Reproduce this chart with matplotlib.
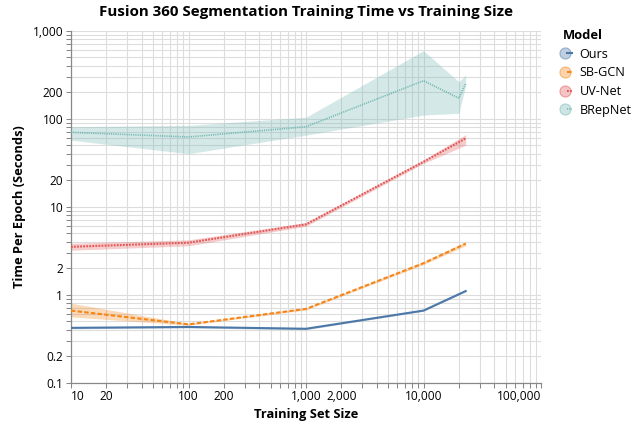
import numpy as np
import matplotlib
matplotlib.use("Agg")
import matplotlib.pyplot as plt
from matplotlib.ticker import FixedLocator, NullFormatter
from matplotlib.legend_handler import HandlerTuple
from matplotlib.lines import Line2D

plt.rcParams['font.family'] = ['Open Sans', 'DejaVu Sans']
plt.rcParams['lines.scale_dashes'] = False

# training set sizes
sizes = [10, 100, 1000, 10000, 22869]
brep_sizes = [10, 100, 1000, 10000, 20000, 22869]

# time per epoch (seconds): mean, lower, upper
ours = [0.42, 0.43, 0.41, 0.66, 1.10]
ours_lo = [0.41, 0.42, 0.40, 0.65, 1.08]
ours_hi = [0.43, 0.44, 0.42, 0.67, 1.12]

sbgcn = [0.66, 0.46, 0.69, 2.28, 3.8]
sbgcn_lo = [0.56, 0.45, 0.67, 2.20, 3.6]
sbgcn_hi = [0.80, 0.47, 0.71, 2.36, 4.0]

uvnet = [3.5, 3.9, 6.3, 32.4, 59.8]
uvnet_lo = [3.2, 3.6, 6.0, 31.0, 50.0]
uvnet_hi = [3.85, 4.2, 6.6, 34.0, 66.0]

brep = [70, 62, 81, 270, 171, 252]
brep_lo = [57, 40, 65, 110, 115, 238]
brep_hi = [81, 84, 104, 593, 263, 314]

models = ['Ours', 'SB-GCN', 'UV-Net', 'BRepNet']
colors = ['#4c78a8', '#f58518', '#e45756', '#72b7b2']

x_labeled = [10, 20, 100, 200, 1000, 2000, 10000, 100000]
y_labeled = [0.1, 0.2, 1, 2, 10, 20, 100, 200, 1000]

fig = plt.figure(figsize=(6.39, 4.23), dpi=100)
ax = fig.add_axes([71/639, 1 - 382.7/423, 470/639, 352/423])

series = [
    (sizes, ours, ours_lo, ours_hi, '-', 1.5),
    (sizes, sbgcn, sbgcn_lo, sbgcn_hi, (0, (3.2, 1.6)), 1.5),
    (sizes, uvnet, uvnet_lo, uvnet_hi, (0, (1.3, 0.9)), 1.5),
    (brep_sizes, brep, brep_lo, brep_hi, (0, (0.8, 0.8)), 1.2),
]

handles = []
for (xs, ys, lo, hi, ls, lw), c, name in zip(series, colors, models):
    ax.fill_between(xs, lo, hi, color=c, alpha=0.3, linewidth=0, zorder=2)
    ax.plot(xs, ys, color=c, linestyle=ls, linewidth=lw, zorder=3)
    dot = Line2D([], [], marker='o', markersize=8, linestyle='none',
                 markerfacecolor=matplotlib.colors.to_rgba(c, 0.35),
                 markeredgecolor=matplotlib.colors.to_rgba(c, 0.5), markeredgewidth=0.8)
    seg = Line2D([], [], color=c, linestyle=ls, linewidth=lw)
    handles.append((dot, seg))

ax.set_xscale('log')
ax.set_yscale('log')
ax.set_xlim(10, 100000)
ax.set_ylim(0.1, 1000)

def minor_positions(lo_exp, hi_exp, labeled):
    out = []
    for e in range(lo_exp, hi_exp):
        for m in range(1, 10):
            v = m * 10.0 ** e
            if not any(abs(v - l) / l < 1e-6 for l in labeled):
                out.append(v)
    return out

ax.xaxis.set_major_locator(FixedLocator(x_labeled))
ax.xaxis.set_minor_locator(FixedLocator(minor_positions(1, 5, x_labeled)))
ax.yaxis.set_major_locator(FixedLocator(y_labeled))
ax.yaxis.set_minor_locator(FixedLocator(minor_positions(-1, 3, y_labeled)))
ax.xaxis.set_minor_formatter(NullFormatter())
ax.yaxis.set_minor_formatter(NullFormatter())
ax.set_xticklabels(['{:,}'.format(v) for v in x_labeled])
ax.set_yticklabels(['{:,}'.format(v) if v >= 1 else '{:g}'.format(v) for v in y_labeled])

ax.grid(True, which='both', color='#dddddd', linewidth=0.8, zorder=0)
ax.set_axisbelow(True)
for s in ['top', 'right']:
    ax.spines[s].set_visible(False)
for s in ['left', 'bottom']:
    ax.spines[s].set_color('#888888')
    ax.spines[s].set_linewidth(0.9)
ax.tick_params(which='both', length=3.6, width=0.75, color='#888888',
               labelsize=8.6, labelcolor='#000000')
ax.tick_params(axis='x', which='both', pad=2)
ax.tick_params(axis='y', which='both', pad=2)

xl = ax.get_xticklabels()
xl[0].set_ha('left')
xl[-1].set_ha('right')

ax.set_xlabel('Training Set Size', fontsize=9.3, fontweight='bold', labelpad=3)
ax.set_ylabel('Time Per Epoch (Seconds)', fontsize=9.3, fontweight='bold', labelpad=5)

fig.text(306/639, 1 - 12/423, 'Fusion 360 Segmentation Training Time vs Training Size',
         ha='center', va='center', fontsize=10.9, fontweight='bold')

leg = ax.legend(handles, models, handler_map={tuple: HandlerTuple(ndivide=None, pad=0)},
                loc='upper left', bbox_to_anchor=(563/639, 1 - 29/423),
                bbox_transform=fig.transFigure, frameon=False, fontsize=9.1,
                title='Model', title_fontproperties={'weight': 'bold', 'size': 9.3},
                handlelength=0.7, handletextpad=0.6, labelspacing=0.45,
                alignment='left', borderpad=0, borderaxespad=0)

fig.savefig('out.png', dpi=100)
